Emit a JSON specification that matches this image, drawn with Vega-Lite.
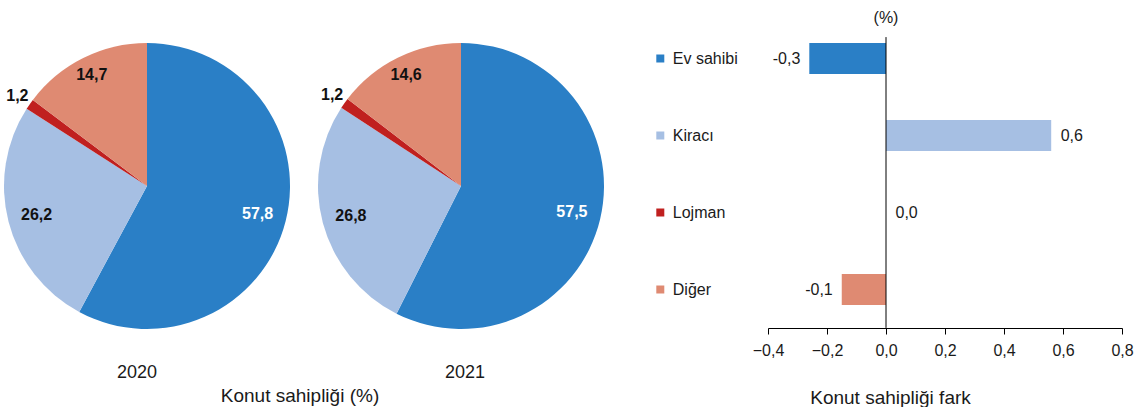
{
  "$schema": "https://vega.github.io/schema/vega-lite/v6.json",
  "background": "white",
  "padding": {"left": 2, "top": 9, "right": 0, "bottom": 0},
  "config": {
    "view": {"stroke": null},
    "font": "Liberation Sans",
    "locale": {"number": {"decimal": ",", "thousands": ".", "grouping": [3], "currency": ["", ""]}},
    "title": {"color": "#1a1a1a", "fontWeight": "normal"}
  },
  "datasets": {
    "pie": [
      {"year": "2020", "cat": "Ev sahibi", "idx": 1, "value": 57.8},
      {"year": "2020", "cat": "Kiracı", "idx": 2, "value": 26.2},
      {"year": "2020", "cat": "Lojman", "idx": 3, "value": 1.2},
      {"year": "2020", "cat": "Diğer", "idx": 4, "value": 14.7},
      {"year": "2021", "cat": "Ev sahibi", "idx": 1, "value": 57.5},
      {"year": "2021", "cat": "Kiracı", "idx": 2, "value": 26.8},
      {"year": "2021", "cat": "Lojman", "idx": 3, "value": 1.2},
      {"year": "2021", "cat": "Diğer", "idx": 4, "value": 14.6}
    ],
    "bars": [
      {"cat": "Ev sahibi", "d": -0.26, "label": "-0,3"},
      {"cat": "Kiracı", "d": 0.56, "label": "0,6"},
      {"cat": "Lojman", "d": 0.0, "label": "0,0"},
      {"cat": "Diğer", "d": -0.15, "label": "-0,1"}
    ]
  },
  "spacing": 50,
  "hconcat": [
    {
      "spacing": 24,
      "title": {"text": "Konut sahipliği (%)", "orient": "bottom", "anchor": "middle", "fontSize": 19, "offset": 5, "dx": -4},
      "hconcat": [
        {
          "width": 290,
          "height": 332,
          "data": {"name": "pie"},
          "transform": [{"filter": "datum.year === '2020'"}],
          "title": {"text": "2020", "orient": "bottom", "offset": 11.5, "fontSize": 18, "dx": -10},
          "encoding": {
            "theta": {"field": "value", "type": "quantitative", "stack": true},
            "order": {"field": "idx", "type": "quantitative"}
          },
          "layer": [
            {
              "mark": {"type": "arc", "outerRadius": 143},
              "encoding": {
                "color": {"field": "cat", "type": "nominal", "legend": null,
                  "scale": {"domain": ["Ev sahibi", "Kiracı", "Lojman", "Diğer"], "range": ["#2a7fc6", "#a6bfe3", "#c0201f", "#df8a72"]}}
              }
            },
            {
              "mark": {"type": "text", "fontSize": 16, "fontWeight": "bold",
                "radius": {"expr": "datum.cat === 'Lojman' ? 158 : datum.cat === 'Diğer' ? 124 : 114"}},
              "encoding": {
                "detail": {"field": "cat"},
                "text": {"field": "value", "type": "quantitative", "format": ".1f"},
                "color": {"condition": {"test": "datum.cat === 'Ev sahibi'", "value": "white"}, "value": "#111111"}
              }
            }
          ]
        },
        {
          "width": 290,
          "height": 332,
          "data": {"name": "pie"},
          "transform": [{"filter": "datum.year === '2021'"}],
          "title": {"text": "2021", "orient": "bottom", "offset": 11.5, "fontSize": 18, "dx": 4},
          "encoding": {
            "theta": {"field": "value", "type": "quantitative", "stack": true},
            "order": {"field": "idx", "type": "quantitative"}
          },
          "layer": [
            {
              "mark": {"type": "arc", "outerRadius": 143},
              "encoding": {
                "color": {"field": "cat", "type": "nominal", "legend": null,
                  "scale": {"domain": ["Ev sahibi", "Kiracı", "Lojman", "Diğer"], "range": ["#2a7fc6", "#a6bfe3", "#c0201f", "#df8a72"]}}
              }
            },
            {
              "mark": {"type": "text", "fontSize": 16, "fontWeight": "bold",
                "radius": {"expr": "datum.cat === 'Lojman' ? 158 : datum.cat === 'Diğer' ? 124 : 114"}},
              "encoding": {
                "detail": {"field": "cat"},
                "text": {"field": "value", "type": "quantitative", "format": ".1f"},
                "color": {"condition": {"test": "datum.cat === 'Ev sahibi'", "value": "white"}, "value": "#111111"}
              }
            }
          ]
        }
      ]
    },
    {
      "width": 354,
      "height": 308,
      "data": {"name": "bars"},
      "encoding": {
        "y": {"field": "cat", "type": "nominal", "sort": ["Ev sahibi", "Kiracı", "Lojman", "Diğer"],
          "scale": {"paddingInner": 0.6, "paddingOuter": 0.3},
          "axis": {"title": null, "domain": false, "ticks": false, "tickSize": 0, "labelAlign": "left", "labelPadding": 95.7,
            "labelFontSize": 16, "labelColor": "#1a1a1a", "grid": false}}
      },
      "layer": [
        {
          "mark": {"type": "bar"},
          "encoding": {
            "x": {"field": "d", "type": "quantitative",
              "scale": {"domain": [-0.4, 0.8], "nice": false, "zero": false},
              "axis": {"values": [-0.4, -0.2, 0, 0.2, 0.4, 0.6, 0.8], "format": ".1f", "domainColor": "black", "tickColor": "black",
                "tickSize": 6, "labelFontSize": 16, "labelColor": "#1a1a1a", "labelPadding": 8, "labelFlush": false,
                "labelOverlap": false, "grid": false, "title": "Konut sahipliği fark", "titleFontSize": 19,
                "titleFontWeight": "normal", "titleColor": "#1a1a1a", "titlePadding": 30, "titleX": 122}},
            "color": {"field": "cat", "type": "nominal", "legend": null,
              "scale": {"domain": ["Ev sahibi", "Kiracı", "Lojman", "Diğer"], "range": ["#2a7fc6", "#a6bfe3", "#c0201f", "#df8a72"]}}
          }
        },
        {
          "data": {"values": [{}]},
          "mark": {"type": "rule", "color": "black", "strokeWidth": 1, "yOffset": -6, "y2Offset": 23},
          "encoding": {
            "x": {"datum": 0},
            "y": {"datum": "Ev sahibi", "bandPosition": 0},
            "y2": {"datum": "Diğer", "bandPosition": 1}
          }
        },
        {
          "transform": [{"filter": "datum.d < 0"}],
          "mark": {"type": "text", "align": "right", "dx": -9, "fontSize": 16, "color": "#1a1a1a"},
          "encoding": {"x": {"field": "d", "type": "quantitative"}, "text": {"field": "label"}}
        },
        {
          "transform": [{"filter": "datum.d >= 0"}],
          "mark": {"type": "text", "align": "left", "dx": 9.5, "fontSize": 16, "color": "#1a1a1a"},
          "encoding": {"x": {"field": "d", "type": "quantitative"}, "text": {"field": "label"}}
        },
        {
          "mark": {"type": "point", "shape": "square", "filled": true, "size": 64, "opacity": 1, "xOffset": -107.7},
          "encoding": {
            "x": {"datum": -0.4},
            "color": {"field": "cat", "type": "nominal", "legend": null,
              "scale": {"domain": ["Ev sahibi", "Kiracı", "Lojman", "Diğer"], "range": ["#2a7fc6", "#a6bfe3", "#c0201f", "#df8a72"]}}
          }
        },
        {
          "data": {"values": [{}]},
          "mark": {"type": "text", "dy": -41, "fontSize": 16, "color": "#1a1a1a"},
          "encoding": {"x": {"datum": 0}, "y": {"datum": "Ev sahibi"}, "text": {"value": "(%)"}}
        }
      ]
    }
  ]
}
